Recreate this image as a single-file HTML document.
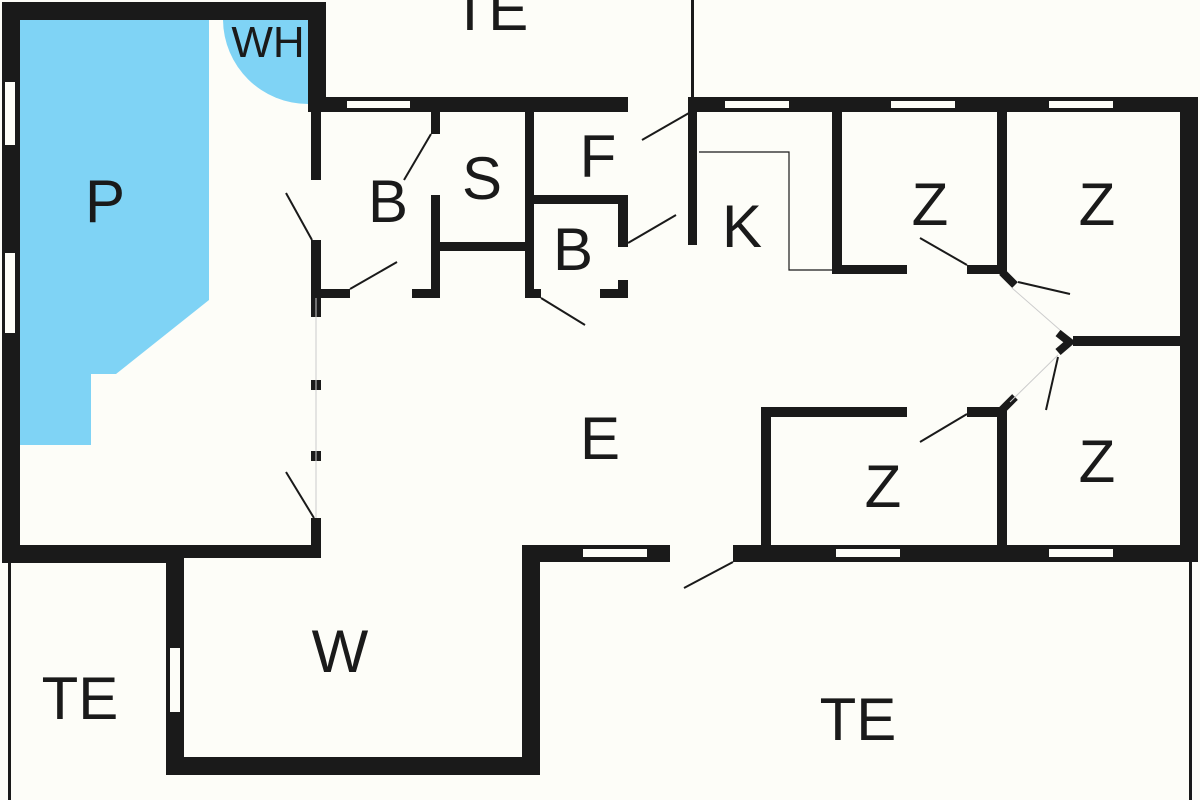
<!DOCTYPE html>
<html><head><meta charset="utf-8"><style>
html,body{margin:0;padding:0;background:#fdfdf8;}
svg{display:block}
text{font-family:"Liberation Sans",Arial,sans-serif;fill:#1a1a1a;text-anchor:middle}
</style></head><body>
<svg width="1200" height="800" viewBox="0 0 1200 800" xmlns="http://www.w3.org/2000/svg">
<rect width="1200" height="800" fill="#fdfdf8"/>
<!-- pool -->
<polygon points="20,20 209,20 209,300 116,374 91,374 91,445 20,445" fill="#7fd3f5"/>
<path d="M223,20 A85,85 0 0 0 308,104 L308,20 Z" fill="#7fd3f5"/>
<g fill="#1a1a1a">
<!-- outer left/top -->
<rect x="2" y="2" width="18" height="560"/>
<rect x="2" y="2" width="324" height="18"/>
<rect x="308" y="2" width="18" height="110"/>
<rect x="308" y="97" width="320" height="15"/>
<rect x="691" y="0" width="3" height="100"/>
<rect x="688" y="97" width="510" height="15"/>
<rect x="1180" y="97" width="18" height="465"/>
<rect x="688" y="97" width="9" height="148"/>
<!-- bottom -->
<rect x="733" y="545" width="465" height="17"/>
<rect x="522" y="545" width="148" height="17"/>
<rect x="522" y="545" width="18" height="230"/>
<rect x="166" y="757" width="374" height="18"/>
<rect x="166" y="545" width="18" height="230"/>
<rect x="2" y="545" width="182" height="18"/>
<rect x="184" y="545" width="137" height="13"/>
<rect x="8" y="562" width="3" height="238"/>
<rect x="1189" y="562" width="3" height="238"/>
<!-- corridor left wall -->
<rect x="311" y="112" width="10" height="68"/>
<rect x="311" y="240" width="10" height="77"/>
<rect x="311" y="380" width="10" height="10"/>
<rect x="311" y="451" width="10" height="10"/>
<rect x="311" y="518" width="10" height="40"/>
<!-- B1 -->
<rect x="311" y="289" width="39" height="9"/>
<rect x="412" y="289" width="28" height="9"/>
<rect x="431" y="112" width="9" height="22"/>
<rect x="431" y="195" width="9" height="103"/>
<rect x="440" y="242" width="85" height="9"/>
<rect x="525" y="112" width="9" height="186"/>
<rect x="525" y="289" width="16" height="9"/>
<rect x="600" y="289" width="28" height="9"/>
<rect x="525" y="195" width="103" height="9"/>
<rect x="618" y="195" width="10" height="52"/>
<rect x="618" y="280" width="10" height="18"/>
<!-- Z rooms -->
<rect x="832" y="112" width="10" height="162"/>
<rect x="832" y="265" width="75" height="9"/>
<rect x="967" y="265" width="40" height="9"/>
<rect x="997" y="112" width="10" height="162"/>
<rect x="1073" y="336" width="107" height="10"/>
<rect x="761" y="407" width="146" height="10"/>
<rect x="967" y="407" width="40" height="10"/>
<rect x="761" y="407" width="10" height="148"/>
<rect x="997" y="407" width="10" height="148"/>
</g>
<g stroke="#1a1a1a" stroke-width="8" stroke-linecap="butt">
<line x1="1002" y1="272" x2="1015" y2="285"/>
<line x1="1058" y1="333" x2="1072" y2="344"/>
<line x1="1058" y1="352" x2="1072" y2="340"/>
<line x1="1002" y1="410" x2="1015" y2="397"/>
</g>
<!-- windows -->
<g fill="#fdfdf8">
<rect x="5" y="82" width="10" height="63"/>
<rect x="5" y="253" width="10" height="80"/>
<rect x="347" y="101" width="63" height="7"/>
<rect x="725" y="101" width="64" height="7"/>
<rect x="891" y="101" width="64" height="7"/>
<rect x="1049" y="101" width="64" height="7"/>
<rect x="583" y="549" width="64" height="8"/>
<rect x="836" y="549" width="64" height="8"/>
<rect x="1049" y="549" width="64" height="8"/>
<rect x="170" y="648" width="10" height="64"/>
</g>
<!-- thin lines -->
<g stroke="#1a1a1a" stroke-width="2" fill="none">
<polyline points="699,152 789,152 789,270 832,270" stroke-width="1.2"/>
<line x1="431" y1="134" x2="404" y2="180"/>
<line x1="286" y1="193" x2="312" y2="240"/>
<line x1="350" y1="289" x2="397" y2="262"/>
<line x1="541" y1="298" x2="585" y2="325"/>
<line x1="689" y1="113" x2="642" y2="140"/>
<line x1="628" y1="243" x2="676" y2="215"/>
<line x1="286" y1="472" x2="314" y2="518"/>
<line x1="733" y1="562" x2="684" y2="588"/>
<line x1="920" y1="238" x2="967" y2="265"/>
<line x1="1018" y1="282" x2="1070" y2="294"/>
<line x1="1058" y1="357" x2="1046" y2="410"/>
<line x1="967" y1="414" x2="920" y2="442"/>
</g>
<g stroke="#ccc" stroke-width="1" fill="none">
<line x1="1012" y1="288" x2="1060" y2="330"/>
<line x1="1058" y1="355" x2="1010" y2="402"/>
<line x1="316" y1="298" x2="316" y2="518"/>
</g>
<!-- labels -->
<g font-size="60">
<text x="105" y="222">P</text>
<text x="490" y="30">TE</text>
<text x="388" y="222">B</text>
<text x="482" y="199">S</text>
<text x="598" y="177">F</text>
<text x="573" y="270">B</text>
<text x="742" y="247">K</text>
<text x="930" y="225">Z</text>
<text x="1097" y="225">Z</text>
<text x="600" y="459">E</text>
<text x="883" y="507">Z</text>
<text x="1097" y="482">Z</text>
<text x="340" y="672">W</text>
<text x="80" y="719">TE</text>
<text x="858" y="740">TE</text>
</g>
<text x="268" y="57" font-size="44">WH</text>
</svg>
</body></html>
